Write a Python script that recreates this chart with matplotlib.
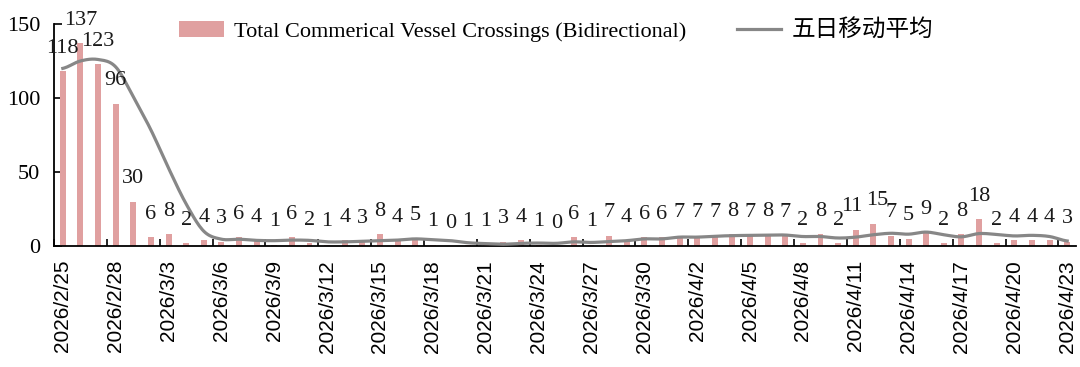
import numpy as np
import matplotlib
matplotlib.use("Agg")
import matplotlib.pyplot as plt

# daily dates (every day from 2026/2/25 to 2026/4/23)
dates = (["2026/2/%d" % d for d in range(25, 29)]
         + ["2026/3/%d" % d for d in range(1, 32)]
         + ["2026/4/%d" % d for d in range(1, 24)])

# total commercial vessel crossings (bidirectional)
crossings = [118, 137, 123, 96, 30, 6, 8, 2, 4, 3, 6, 4, 1, 6, 2, 1, 4, 3, 8, 4,
             5, 1, 0, 1, 1, 3, 4, 1, 0, 6, 1, 7, 4, 6, 6, 7, 7, 7, 8, 7,
             8, 7, 2, 8, 2, 11, 15, 7, 5, 9, 2, 8, 18, 2, 4, 4, 4, 3]

# five-day moving average (first values)
ma5 = [120, 125, 126, 121, 100.8, 78.4, 52.6, 28.4, 10.0, 4.6, 4.6, 3.8, 3.6, 4.0,
       3.8, 2.8, 2.8, 3.2, 3.6, 4.0, 4.8, 4.2, 3.6, 2.2, 1.6, 1.2, 1.8, 2.0, 1.8,
       2.8, 2.4, 3.0, 3.6, 4.8, 4.8, 6.0, 6.0, 6.6, 7.0, 7.2, 7.4, 7.4, 6.4, 6.4,
       5.4, 6.0, 7.6, 8.6, 8.0, 9.4, 7.6, 6.2, 8.4, 7.8, 6.8, 7.2, 6.4, 3.4]

label_bar = "Total Commerical Vessel Crossings (Bidirectional)"
label_line = "五日移动平均"


def smooth(x, y, n=12):
    # catmull-rom style smoothing like a spreadsheet "smoothed line"
    x = np.asarray(x, float)
    y = np.asarray(y, float)
    px = np.concatenate([[2 * x[0] - x[1]], x, [2 * x[-1] - x[-2]]])
    py = np.concatenate([[y[0]], y, [y[-1]]])
    xs, ys = [], []
    t = np.linspace(0, 1, n, endpoint=False)
    for i in range(1, len(px) - 2):
        p0, p1, p2, p3 = py[i - 1], py[i], py[i + 1], py[i + 2]
        ys.append(0.5 * (2 * p1 + (-p0 + p2) * t + (2 * p0 - 5 * p1 + 4 * p2 - p3) * t ** 2
                         + (-p0 + 3 * p1 - 3 * p2 + p3) * t ** 3))
        xs.append(px[i] + (px[i + 1] - px[i]) * t)
    xs.append([x[-1]])
    ys.append([y[-1]])
    return np.concatenate(xs), np.concatenate(ys)


idx = np.arange(len(dates))

fig = plt.figure(figsize=(10.8, 3.67), dpi=100)
ax = fig.add_axes([0.05, 0.3297, 0.9463, 0.605])

bars = ax.bar(idx, crossings, width=0.34, color="#E0A0A0", zorder=2, label=label_bar)
sx, sy = smooth(idx, ma5)
line, = ax.plot(sx, sy, color="#878787", lw=2.3, zorder=3, label=label_line)

# small sideways nudges so neighbouring two-digit labels don't collide
nudge = {45: -2.5, 46: 2.5}
for i, v in zip(idx, crossings):
    ax.annotate(str(v), (i, v), xytext=(nudge.get(i, 0), 16.5), textcoords="offset points",
                ha="center", va="center", fontsize=16, family="Liberation Serif",
                color="#1a1a1a", zorder=4)

ax.set_xlim(-0.5, len(dates) - 0.5)
ax.set_ylim(0, 150)
ax.set_yticks([0, 50, 100, 150])
ax.set_yticklabels(["0", "50", "100", "150"], family="Liberation Serif", fontsize=16)
ax.tick_params(axis="y", direction="in", length=6, width=1.2, pad=10)

ax.set_xticks(idx[::3])
ax.set_xticklabels(dates[::3], rotation=90, family="Liberation Sans", fontsize=15)
ax.set_xticks(np.arange(-0.5, len(dates), 3), minor=True)
ax.tick_params(axis="x", which="major", length=0, pad=10)
ax.tick_params(axis="x", which="minor", direction="in", length=5, width=1.2)

for s in ["top", "right"]:
    ax.spines[s].set_visible(False)
for s in ["left", "bottom"]:
    ax.spines[s].set_linewidth(1.3)

leg = fig.legend(handles=[bars, line], loc="center", bbox_to_anchor=(0.515, 1 - 30 / 367),
                 ncol=2, frameon=False, fontsize=16, handlelength=2.0,
                 columnspacing=2.3, handletextpad=0.45)
leg.get_texts()[0].set_family("Liberation Serif")
leg.get_texts()[1].set_family(["Noto Sans CJK SC", "DejaVu Sans"])
leg.get_texts()[1].set_fontsize(17)

fig.savefig("out.png", dpi=100)
